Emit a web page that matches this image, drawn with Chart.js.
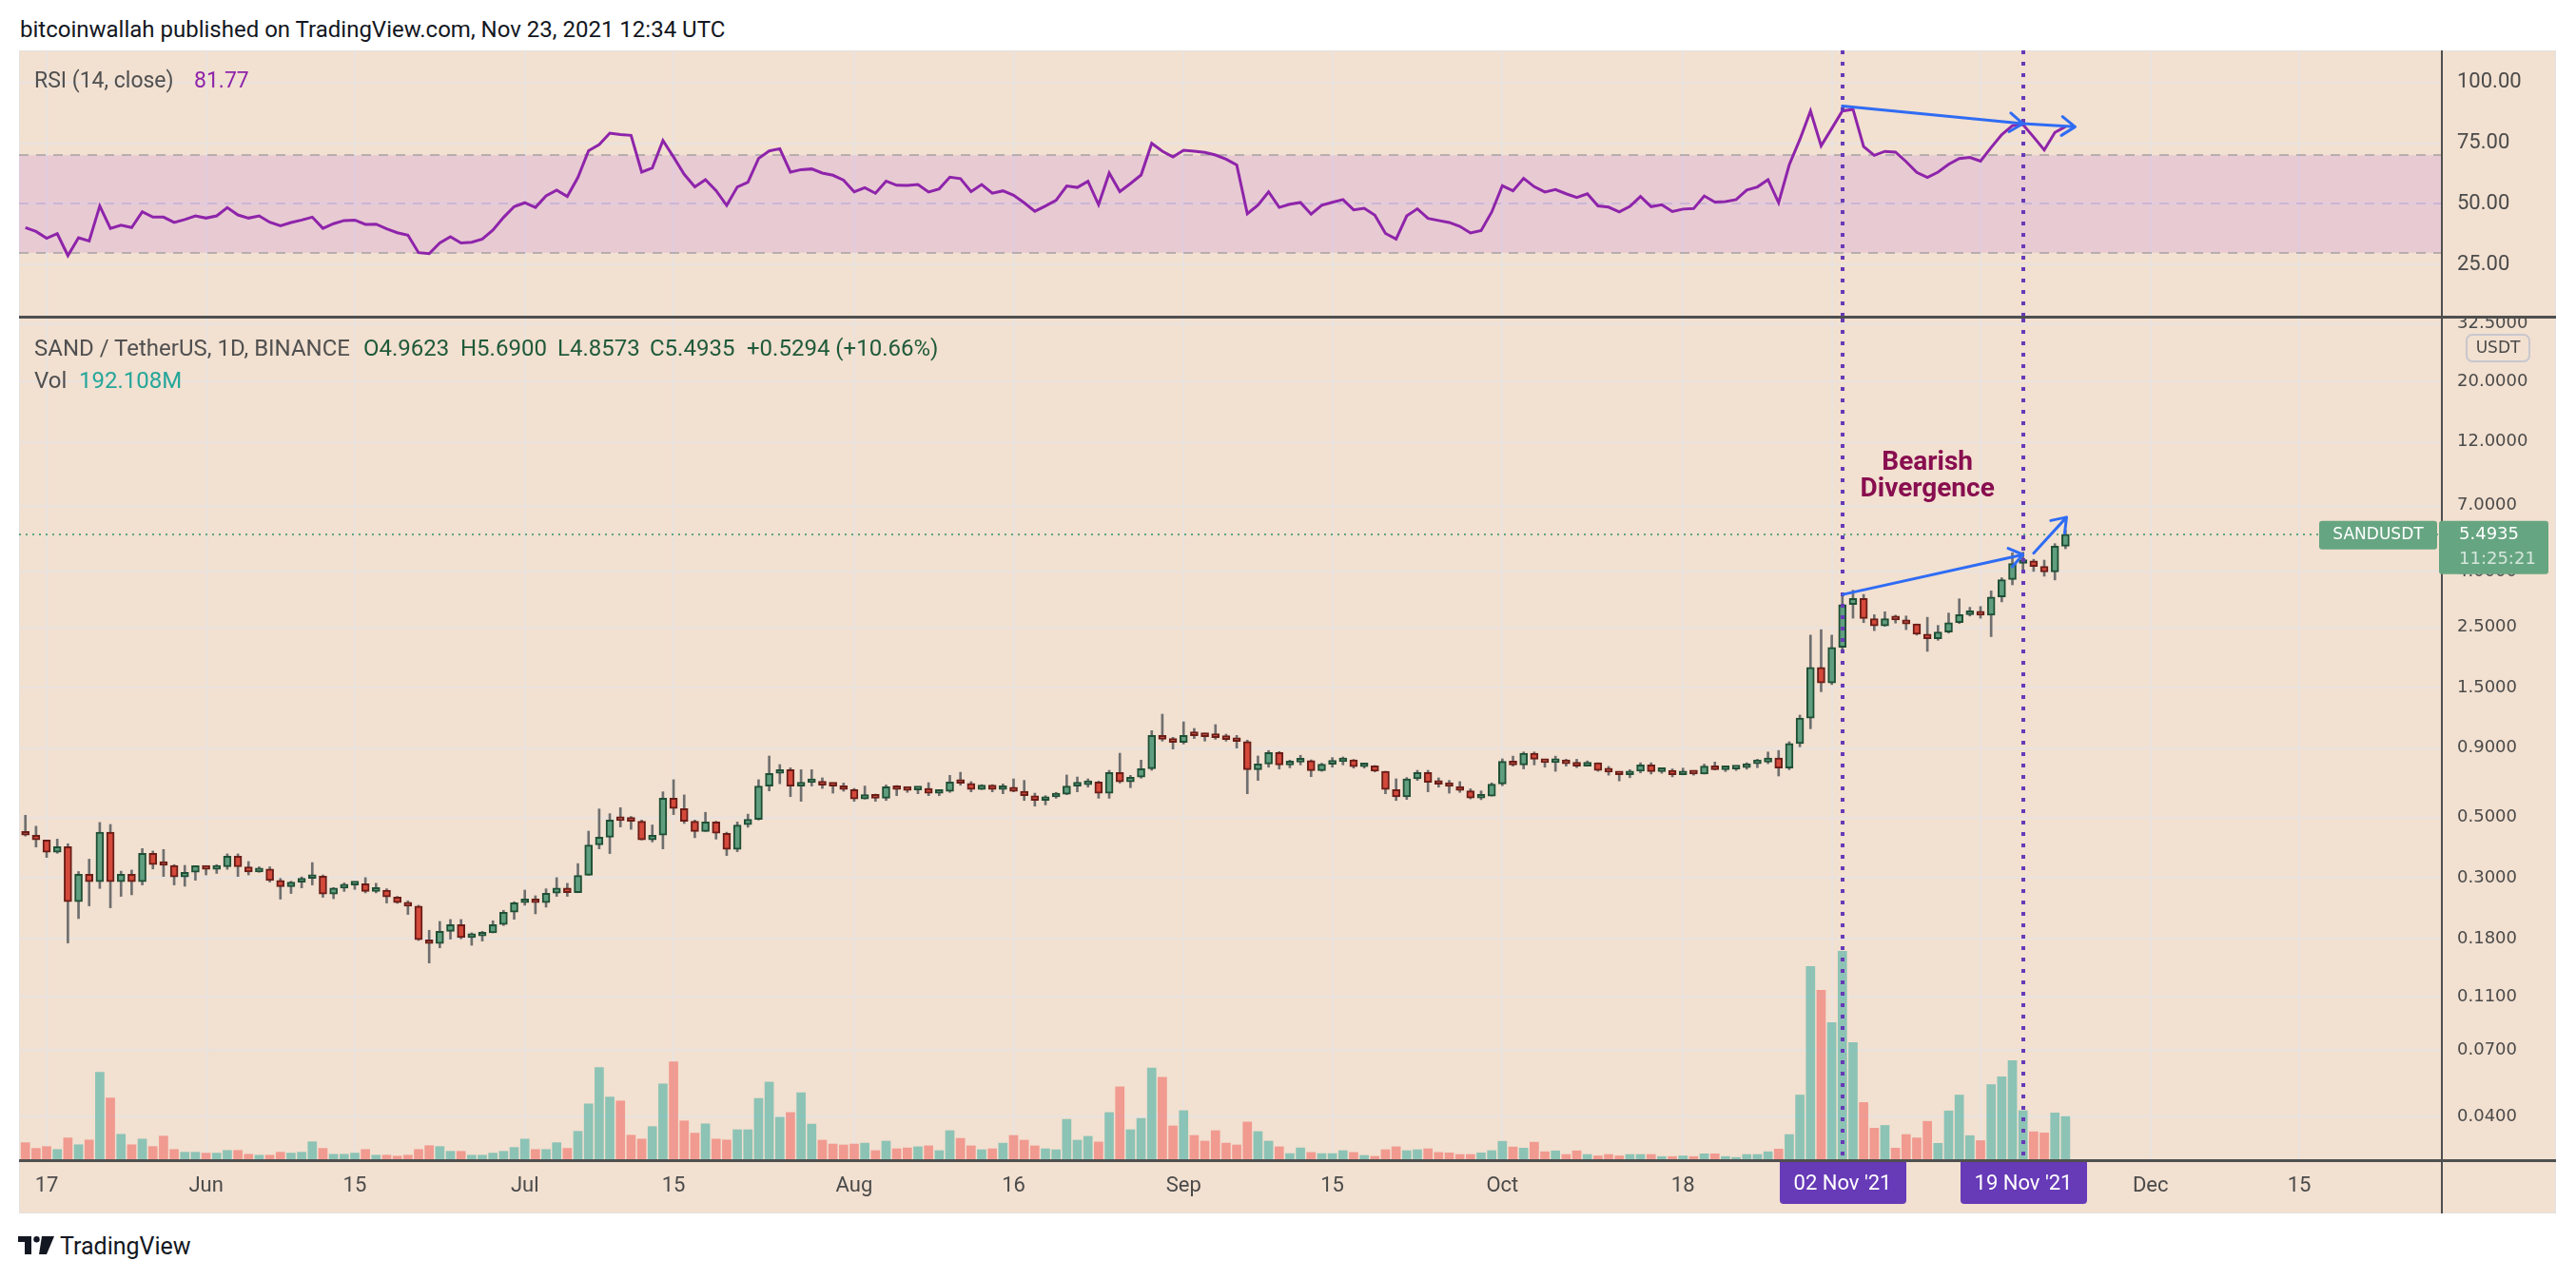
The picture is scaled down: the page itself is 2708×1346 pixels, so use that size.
<!DOCTYPE html>
<html>
<head>
<meta charset="utf-8">
<title>SAND / TetherUS 1D</title>
<script src="https://cdn.jsdelivr.net/npm/chart.js@4.4.0/dist/chart.umd.min.js"></script>
<style>
  html, body { margin: 0; padding: 0; background: #fff; }
  body { width: 2708px; height: 1346px; position: relative; overflow: hidden; font-family: Roboto, sans-serif; }
  #frame { position: absolute; left: 20px; top: 53px; width: 2667px; height: 1223px; background: #f2e0d0; box-sizing: border-box; border: 1px solid #e4e2e2; }
  canvas { position: absolute; left: 20px; }
  #rsiChart { top: 53px; width: 2667px; height: 280px; }
  #priceChart { top: 335px; width: 2667px; height: 941px; }
  .sep { position: absolute; background: #4f4f4f; }
  .txt { position: absolute; white-space: nowrap; line-height: 1; }
  #title { left: 21px; top: 19px; font-size: 24px; color: #131722; }
  .leg { font-size: 23px; color: #505050; }
  .val { color: #1f5a3a; }
  #logo { position: absolute; left: 19px; top: 1300px; }
</style>
</head>
<body>
<div id="title" class="txt">bitcoinwallah published on TradingView.com, Nov 23, 2021 12:34 UTC</div>
<div id="frame"></div>
<canvas id="rsiChart" width="2667" height="280"></canvas>
<canvas id="priceChart" width="2667" height="941"></canvas>
<div class="sep" style="left:20px;top:332px;width:2667px;height:3px"></div>

<div class="txt leg" style="left:36px;top:73px">RSI (14, close)</div>
<div class="txt leg" style="left:204px;top:73px;color:#8e24aa">81.77</div>

<div class="txt leg" style="left:36px;top:354px;font-size:24px">SAND / TetherUS, 1D, BINANCE</div>
<div class="txt leg val" style="left:382px;top:354px;font-size:24px">O4.9623</div>
<div class="txt leg val" style="left:484px;top:354px;font-size:24px">H5.6900</div>
<div class="txt leg val" style="left:586px;top:354px;font-size:24px">L4.8573</div>
<div class="txt leg val" style="left:683px;top:354px;font-size:24px">C5.4935</div>
<div class="txt leg val" style="left:785px;top:354px;font-size:24px">+0.5294 (+10.66%)</div>
<div class="txt leg" style="left:36px;top:388px;font-size:24px">Vol</div>
<div class="txt leg" style="left:83px;top:388px;font-size:24px;color:#26a69a">192.108M</div>

<svg id="logo" width="38" height="19" viewBox="0 0 38 19">
  <rect x="0" y="0" width="14" height="6" fill="#131722"/>
  <rect x="7" y="0" width="7" height="19" fill="#131722"/>
  <circle cx="19.5" cy="3.2" r="3.2" fill="#131722"/>
  <polygon points="25,0 38,0 30,19 22,19" fill="#131722"/>
</svg>
<div class="txt" style="left:63px;top:1298px;font-size:25px;color:#131722">TradingView</div>

<script>
// day 0 = 15 May 2021, last candle = 23 Nov 2021
const open = [
  0.438, 0.431, 0.414, 0.373, 0.391, 0.2455, 0.310, 0.291, 0.442, 0.291,
  0.310, 0.291, 0.370, 0.338, 0.334, 0.303, 0.315, 0.333, 0.323, 0.330,
  0.361, 0.330, 0.316, 0.324, 0.294, 0.279, 0.290, 0.299, 0.305, 0.262,
  0.2755, 0.283, 0.286, 0.268, 0.271, 0.2556, 0.2435, 0.2365, 0.178, 0.1724,
  0.1913, 0.2024, 0.1814, 0.1838, 0.1888, 0.2024, 0.2247, 0.2435, 0.2515, 0.2435,
  0.264, 0.2755, 0.265, 0.307, 0.397, 0.424, 0.493, 0.488, 0.485, 0.414,
  0.431, 0.590, 0.540, 0.485, 0.445, 0.482, 0.438, 0.382, 0.471, 0.493,
  0.653, 0.727, 0.750, 0.653, 0.672, 0.678, 0.658, 0.653, 0.634, 0.585,
  0.607, 0.589, 0.649, 0.636, 0.632, 0.640, 0.614, 0.625, 0.676, 0.668,
  0.634, 0.658, 0.634, 0.646, 0.625, 0.602, 0.578, 0.596, 0.610, 0.653,
  0.661, 0.676, 0.614, 0.732, 0.676, 0.704, 0.756, 1.002, 0.970, 0.945,
  1.013, 1.0, 0.995, 0.986, 0.968, 0.952, 0.750, 0.787, 0.867, 0.781,
  0.800, 0.809, 0.744, 0.785, 0.802, 0.815, 0.769, 0.775, 0.740, 0.634,
  0.596, 0.694, 0.732, 0.674, 0.663, 0.651, 0.627, 0.590, 0.600, 0.664,
  0.805, 0.781, 0.862, 0.819, 0.797, 0.814, 0.789, 0.773, 0.795, 0.745,
  0.735, 0.718, 0.740, 0.781, 0.738, 0.745, 0.718, 0.730, 0.723, 0.773,
  0.750, 0.755, 0.763, 0.789, 0.800, 0.828, 0.760, 0.935, 1.16, 1.78,
  1.56, 2.11, 3.03, 3.19, 2.69, 2.53, 2.69, 2.66, 2.57, 2.36,
  2.27, 2.40, 2.60, 2.78, 2.81, 2.77, 3.23, 3.74, 4.29, 4.38,
  4.18, 3.99, 4.9623
];
const high = [
  0.510, 0.465, 0.414, 0.417, 0.401, 0.317, 0.352, 0.480, 0.472, 0.318,
  0.321, 0.385, 0.377, 0.382, 0.336, 0.334, 0.333, 0.333, 0.336, 0.368,
  0.368, 0.345, 0.330, 0.330, 0.299, 0.292, 0.303, 0.342, 0.308, 0.277,
  0.288, 0.289, 0.301, 0.287, 0.274, 0.257, 0.2475, 0.2384, 0.1929, 0.2079,
  0.2113, 0.2113, 0.1888, 0.1913, 0.209, 0.2284, 0.2455, 0.271, 0.2583, 0.274,
  0.301, 0.287, 0.339, 0.446, 0.538, 0.517, 0.544, 0.505, 0.490, 0.470,
  0.622, 0.689, 0.606, 0.490, 0.523, 0.485, 0.442, 0.482, 0.515, 0.689,
  0.842, 0.783, 0.762, 0.750, 0.750, 0.700, 0.670, 0.670, 0.640, 0.653,
  0.610, 0.659, 0.656, 0.649, 0.649, 0.672, 0.629, 0.715, 0.734, 0.678,
  0.661, 0.661, 0.665, 0.694, 0.685, 0.615, 0.602, 0.619, 0.717, 0.705,
  0.694, 0.681, 0.746, 0.862, 0.715, 0.813, 1.043, 1.199, 0.986, 1.124,
  1.063, 1.021, 1.098, 1.013, 1.002, 0.963, 0.842, 0.882, 0.874, 0.813,
  0.847, 0.815, 0.792, 0.831, 0.835, 0.818, 0.787, 0.777, 0.740, 0.694,
  0.702, 0.746, 0.746, 0.700, 0.685, 0.678, 0.638, 0.627, 0.671, 0.822,
  0.841, 0.871, 0.871, 0.819, 0.841, 0.819, 0.819, 0.808, 0.795, 0.771,
  0.738, 0.750, 0.795, 0.795, 0.755, 0.755, 0.760, 0.740, 0.786, 0.800,
  0.773, 0.763, 0.795, 0.819, 0.871, 0.882, 0.950, 1.19, 2.34, 2.45,
  2.34, 3.34, 3.42, 3.30, 2.78, 2.85, 2.77, 2.75, 2.57, 2.72,
  2.54, 2.82, 3.18, 2.96, 2.98, 3.40, 3.80, 4.69, 4.72, 4.44,
  4.41, 5.07, 5.69
];
const low = [
  0.428, 0.390, 0.357, 0.370, 0.1733, 0.213, 0.2371, 0.2748, 0.2333, 0.257,
  0.2604, 0.283, 0.324, 0.304, 0.283, 0.280, 0.2945, 0.308, 0.312, 0.323,
  0.304, 0.308, 0.315, 0.290, 0.251, 0.2633, 0.276, 0.283, 0.255, 0.252,
  0.268, 0.2725, 0.2647, 0.2647, 0.2429, 0.2422, 0.2205, 0.177, 0.1463, 0.1664,
  0.179, 0.1795, 0.170, 0.1761, 0.1888, 0.2008, 0.2118, 0.2384, 0.2217, 0.2346,
  0.257, 0.257, 0.265, 0.307, 0.384, 0.369, 0.462, 0.453, 0.414, 0.407,
  0.384, 0.513, 0.476, 0.422, 0.445, 0.417, 0.363, 0.375, 0.461, 0.490,
  0.627, 0.666, 0.597, 0.574, 0.653, 0.640, 0.615, 0.625, 0.574, 0.585,
  0.574, 0.578, 0.602, 0.619, 0.612, 0.602, 0.602, 0.619, 0.658, 0.622,
  0.634, 0.622, 0.612, 0.622, 0.578, 0.551, 0.557, 0.589, 0.607, 0.622,
  0.647, 0.589, 0.589, 0.670, 0.644, 0.698, 0.746, 0.955, 0.893, 0.932,
  0.976, 0.955, 0.970, 0.955, 0.900, 0.612, 0.685, 0.766, 0.754, 0.762,
  0.781, 0.707, 0.740, 0.766, 0.781, 0.760, 0.760, 0.736, 0.612, 0.578,
  0.583, 0.685, 0.622, 0.647, 0.615, 0.619, 0.586, 0.582, 0.600, 0.655,
  0.773, 0.755, 0.781, 0.766, 0.740, 0.773, 0.763, 0.773, 0.740, 0.716,
  0.682, 0.701, 0.730, 0.723, 0.728, 0.706, 0.718, 0.716, 0.723, 0.748,
  0.738, 0.745, 0.753, 0.763, 0.789, 0.711, 0.750, 0.910, 1.06, 1.45,
  1.54, 2.04, 2.70, 2.60, 2.43, 2.52, 2.59, 2.45, 2.34, 2.04,
  2.24, 2.38, 2.58, 2.75, 2.70, 2.31, 3.10, 3.58, 3.96, 4.01,
  3.85, 3.73, 4.8573
];
const close = [
  0.431, 0.414, 0.373, 0.391, 0.2455, 0.310, 0.291, 0.442, 0.291, 0.310,
  0.291, 0.370, 0.336, 0.334, 0.303, 0.315, 0.333, 0.323, 0.330, 0.361,
  0.330, 0.316, 0.324, 0.294, 0.279, 0.290, 0.299, 0.305, 0.262, 0.2755,
  0.284, 0.286, 0.268, 0.271, 0.2556, 0.2435, 0.2365, 0.178, 0.1724, 0.1913,
  0.2024, 0.1814, 0.1838, 0.1888, 0.2024, 0.2247, 0.2435, 0.2515, 0.2435, 0.264,
  0.2755, 0.265, 0.307, 0.397, 0.424, 0.490, 0.488, 0.485, 0.414, 0.431,
  0.590, 0.540, 0.485, 0.445, 0.482, 0.438, 0.382, 0.470, 0.493, 0.653,
  0.727, 0.750, 0.653, 0.672, 0.678, 0.658, 0.653, 0.634, 0.585, 0.607,
  0.589, 0.649, 0.634, 0.630, 0.640, 0.614, 0.625, 0.676, 0.668, 0.634,
  0.658, 0.634, 0.646, 0.625, 0.602, 0.578, 0.596, 0.610, 0.653, 0.661,
  0.676, 0.614, 0.732, 0.676, 0.704, 0.756, 1.002, 0.970, 0.945, 1.002,
  1.0, 0.9915, 0.9835, 0.968, 0.952, 0.750, 0.787, 0.867, 0.781, 0.800,
  0.809, 0.744, 0.785, 0.802, 0.815, 0.769, 0.775, 0.740, 0.634, 0.596,
  0.694, 0.732, 0.674, 0.663, 0.651, 0.629, 0.590, 0.600, 0.664, 0.805,
  0.781, 0.862, 0.819, 0.797, 0.814, 0.789, 0.773, 0.795, 0.745, 0.735,
  0.718, 0.740, 0.781, 0.738, 0.745, 0.718, 0.730, 0.723, 0.773, 0.750,
  0.755, 0.763, 0.789, 0.800, 0.828, 0.760, 0.935, 1.16, 1.78, 1.56,
  2.11, 3.03, 3.19, 2.69, 2.53, 2.69, 2.66, 2.57, 2.36, 2.27,
  2.40, 2.60, 2.78, 2.81, 2.77, 3.23, 3.74, 4.29, 4.38, 4.18,
  3.99, 4.9641, 5.4935
];
// volume in millions of SAND
const volume = [
  77, 52, 60, 47, 98, 68, 89, 387, 274, 114,
  68, 93, 60, 106, 47, 35, 35, 31, 31, 43,
  43, 26, 22, 22, 35, 31, 35, 81, 52, 26,
  26, 31, 47, 22, 22, 18, 22, 47, 64, 60,
  39, 39, 22, 22, 31, 39, 56, 93, 47, 47,
  77, 52, 127, 248, 408, 278, 261, 110, 93, 148,
  336, 433, 173, 119, 160, 93, 89, 134, 134, 272,
  344, 189, 210, 297, 159, 88, 71, 67, 71, 75,
  42, 84, 50, 54, 59, 63, 42, 130, 96, 63,
  46, 50, 75, 109, 88, 63, 50, 46, 180, 88,
  105, 80, 210, 323, 134, 184, 406, 365, 151, 218,
  109, 84, 130, 75, 67, 168, 126, 84, 59, 29,
  54, 34, 29, 29, 42, 34, 21, 17, 46, 59,
  42, 46, 50, 34, 32, 25, 25, 32, 42, 83,
  58, 53, 79, 37, 41, 25, 41, 25, 19, 25,
  19, 25, 25, 25, 16, 16, 19, 16, 28, 28,
  16, 12, 25, 25, 37, 49, 113, 287, 853, 749,
  606, 920, 518, 254, 141, 153, 53, 113, 98, 171,
  74, 217, 287, 108, 86, 333, 367, 439, 218, 125,
  120, 208, 192.108
];
const rsi = [
  40.3, 38.7, 35.9, 37.8, 28.8, 36.1, 34.8, 49.2, 40.0, 41.3,
  40.3, 46.8, 44.6, 44.6, 42.4, 43.6, 45.1, 44.2, 45.1, 48.5,
  45.5, 44.2, 45.1, 42.5, 41.0, 42.4, 43.4, 44.6, 40.0, 41.9,
  43.2, 43.4, 41.6, 41.7, 39.8, 38.2, 37.2, 30.0, 29.6, 34.0,
  36.5, 34.0, 34.3, 35.6, 39.3, 44.5, 48.9, 50.5, 48.6, 53.3,
  55.7, 53.1, 60.9, 71.9, 74.4, 79.1, 78.5, 78.2, 63.1, 64.8,
  76.1, 69.3, 62.2, 57.0, 60.0, 55.5, 49.4, 57.0, 58.9, 68.7,
  71.8, 72.7, 63.1, 64.1, 64.4, 62.7, 61.8, 59.8, 55.0, 56.7,
  54.4, 59.4, 57.7, 57.6, 58.0, 54.9, 56.2, 61.0, 60.4, 55.1,
  58.0, 54.4, 55.4, 53.6, 50.5, 47.0, 49.2, 51.5, 57.4, 56.8,
  59.3, 49.7, 62.7, 55.1, 58.4, 61.9, 74.9, 71.7, 69.3, 72.1,
  71.7, 71.2, 70.1, 68.4, 66.0, 46.0, 49.5, 55.0, 48.6, 49.9,
  50.6, 45.8, 49.5, 50.7, 51.8, 47.6, 48.2, 45.4, 37.9, 35.6,
  45.1, 48.0, 44.1, 43.2, 42.4, 40.8, 38.1, 39.1, 46.7, 57.5,
  55.4, 60.5, 57.1, 54.9, 55.9, 54.2, 52.7, 54.2, 49.2, 48.7,
  46.7, 49.0, 53.1, 48.9, 49.7, 46.9, 47.9, 48.1, 53.3, 50.8,
  51.0, 51.8, 55.7, 57.0, 60.0, 50.5, 66.1, 76.5, 88.2, 73.9,
  81.0, 88.2, 88.9, 73.6, 70.0, 71.6, 71.3, 67.4, 63.0, 60.9,
  63.1, 66.3, 68.7, 69.1, 67.6, 73.2, 78.5, 82.2, 82.6, 77.5,
  72.2, 79.4, 81.77
];

const tickDays = [2, 17, 31, 47, 61, 78, 93, 109, 123, 139, 156, 170, 184, 200, 214];
const tickLabels = ['17', 'Jun', '15', 'Jul', '15', 'Aug', '16', 'Sep', '15', 'Oct', '18', 'Nov', '15', 'Dec', '15'];
const priceTicks = [0.04, 0.07, 0.11, 0.18, 0.3, 0.5, 0.9, 1.5, 2.5, 4, 7, 12, 20, 32.5];
const rsiTicks = [25, 50, 75, 100];
const markDays = [171, 188];
const markLabels = ["02 Nov '21", "19 Nov '21"];
const lastClose = 5.4935;

// visible day range of the time axis
const X_MIN = -0.6;
const X_MAX = 227.33;

const gridColor = '#e9e3df';
const axisText = '#4a4a4a';
Chart.defaults.font.family = 'Roboto';

function markLines(ctx, x, top, bottom) {
  ctx.save();
  ctx.strokeStyle = '#673ab7';
  ctx.lineWidth = 4;
  ctx.setLineDash([4, 8]);
  markDays.forEach(d => {
    const px = Math.round(x.getPixelForValue(d));
    ctx.beginPath();
    ctx.moveTo(px, top);
    ctx.lineTo(px, bottom);
    ctx.stroke();
  });
  ctx.restore();
}

function arrow(ctx, x1, y1, x2, y2) {
  const ang = Math.atan2(y2 - y1, x2 - x1);
  const len = 17, spread = 0.62;
  ctx.save();
  ctx.strokeStyle = '#2f6cf4';
  ctx.lineWidth = 3;
  ctx.lineCap = 'round';
  ctx.lineJoin = 'round';
  ctx.beginPath();
  ctx.moveTo(x1, y1);
  ctx.lineTo(x2, y2);
  ctx.moveTo(x2 - len * Math.cos(ang - spread), y2 - len * Math.sin(ang - spread));
  ctx.lineTo(x2, y2);
  ctx.lineTo(x2 - len * Math.cos(ang + spread), y2 - len * Math.sin(ang + spread));
  ctx.stroke();
  ctx.restore();
}

function roundBox(ctx, x, y, w, h, r) {
  ctx.beginPath();
  ctx.roundRect(x, y, w, h, r);
}

const rsiMarks = {
  id: 'rsiMarks',
  beforeDatasetsDraw(chart) {
    const { ctx, chartArea: a, scales: { y } } = chart;
    const y70 = y.getPixelForValue(70), y50 = y.getPixelForValue(50), y30 = y.getPixelForValue(30);
    ctx.save();
    ctx.fillStyle = 'rgba(202,136,220,0.25)';
    ctx.fillRect(a.left, y70, a.right - a.left, y30 - y70);
    ctx.lineWidth = 2;
    ctx.setLineDash([10, 8]);
    [[y70, 'rgba(140,138,150,0.55)'], [y50, 'rgba(170,150,200,0.4)'], [y30, 'rgba(140,138,150,0.55)']].forEach(([py, c]) => {
      ctx.strokeStyle = c;
      ctx.beginPath();
      ctx.moveTo(a.left, Math.round(py));
      ctx.lineTo(a.right, Math.round(py));
      ctx.stroke();
    });
    ctx.restore();
  },
  afterDatasetsDraw(chart) {
    const { ctx, chartArea: a, scales: { x, y } } = chart;
    markLines(ctx, x, a.top, a.bottom);
    arrow(ctx, x.getPixelForValue(171), y.getPixelForValue(90.2), x.getPixelForValue(188), y.getPixelForValue(83.0));
    arrow(ctx, x.getPixelForValue(188), y.getPixelForValue(83.0), x.getPixelForValue(192.9), y.getPixelForValue(81.7));
  },
  afterDraw(chart) {
    const { ctx, chartArea: a } = chart;
    ctx.save();
    ctx.fillStyle = '#4f4f4f';
    ctx.fillRect(a.right, 0, 2, chart.height);
    ctx.restore();
  }
};

const priceMarks = {
  id: 'priceMarks',
  beforeDatasetsDraw(chart) {
    const { ctx, chartArea: a, scales: { y } } = chart;
    const py = Math.round(y.getPixelForValue(lastClose));
    ctx.save();
    ctx.strokeStyle = '#5fa680';
    ctx.lineWidth = 2;
    ctx.setLineDash([2, 5]);
    ctx.beginPath();
    ctx.moveTo(a.left, py);
    ctx.lineTo(a.right, py);
    ctx.stroke();
    ctx.restore();
  },
  afterDatasetsDraw(chart) {
    const { ctx, chartArea: a, scales: { x, y } } = chart;
    markLines(ctx, x, a.top, a.bottom);
    arrow(ctx, x.getPixelForValue(171.05), y.getPixelForValue(3.30), x.getPixelForValue(188), y.getPixelForValue(4.62));
    arrow(ctx, x.getPixelForValue(189.0), y.getPixelForValue(4.68), x.getPixelForValue(192.1), y.getPixelForValue(6.34));
    ctx.save();
    ctx.fillStyle = '#880e4f';
    ctx.font = 'bold 28px Roboto';
    ctx.textAlign = 'center';
    ctx.textBaseline = 'middle';
    const tx = x.getPixelForValue(179);
    ctx.fillText('Bearish', tx, y.getPixelForValue(10.04));
    ctx.fillText('Divergence', tx, y.getPixelForValue(8.0));
    ctx.restore();
  },
  afterDraw(chart) {
    const { ctx, chartArea: a, scales: { x, y } } = chart;
    ctx.save();
    // axis frame lines
    ctx.fillStyle = '#4f4f4f';
    ctx.fillRect(a.right, 0, 2, chart.height);
    ctx.fillRect(0, a.bottom - 1, chart.width, 3);

    // date labels of the two marked candles
    markDays.forEach((d, i) => {
      const cx = Math.round(x.getPixelForValue(d));
      ctx.fillStyle = '#673ab7';
      roundBox(ctx, cx - 66, a.bottom + 2, 133, 44, [0, 0, 4, 4]);
      ctx.fill();
      ctx.fillStyle = '#ffffff';
      ctx.font = '22px Roboto';
      ctx.textAlign = 'center';
      ctx.textBaseline = 'middle';
      ctx.fillText(markLabels[i], cx, a.bottom + 25);
    });

    // last price tags
    const py = y.getPixelForValue(lastClose);
    ctx.fillStyle = '#66a581';
    roundBox(ctx, a.right - 2, py - 14, 115, 56, 3);
    ctx.fill();
    roundBox(ctx, a.right - 128, py - 14, 124, 30, 3);
    ctx.fill();
    ctx.font = '18px "DejaVu Sans"';
    ctx.textBaseline = 'middle';
    ctx.textAlign = 'left';
    ctx.fillStyle = '#ffffff';
    ctx.fillText(lastClose.toFixed(4), a.right + 19, py + 1);
    ctx.fillStyle = 'rgba(255,255,255,0.72)';
    ctx.fillText('11:25:21', a.right + 19, py + 27);
    ctx.fillStyle = '#ffffff';
    ctx.font = '17px "DejaVu Sans"';
    ctx.textAlign = 'center';
    ctx.fillText('SANDUSDT', a.right - 66, py + 1);

    // currency badge
    ctx.strokeStyle = '#c9c7cf';
    ctx.lineWidth = 2;
    roundBox(ctx, a.right + 27, 17, 66, 28, 6);
    ctx.stroke();
    ctx.fillStyle = axisText;
    ctx.fillText('USDT', a.right + 60, 32);
    ctx.restore();
  }
};

const days = close.map((_, i) => i);
const isUp = days.map(i => close[i] >= open[i]);

function timeAxis(showLabels) {
  return {
    type: 'linear',
    position: 'bottom',
    min: X_MIN,
    max: X_MAX,
    bounds: 'data',
    offset: false,
    afterBuildTicks: s => { s.ticks = tickDays.map(v => ({ value: v })); },
    ticks: {
      display: showLabels,
      autoSkip: false,
      maxRotation: 0,
      padding: 14,
      color: axisText,
      font: { size: 22 },
      callback: (v, i) => tickLabels[i]
    },
    grid: { color: gridColor, lineWidth: 2, drawTicks: false, offset: false },
    border: { display: false },
    afterFit: s => { s.height = showLabels ? 56 : 0; s.paddingLeft = 0; s.paddingRight = 0; }
  };
}

new Chart(document.getElementById('rsiChart'), {
  type: 'line',
  data: {
    datasets: [{
      label: 'RSI',
      data: days.map(i => ({ x: i, y: rsi[i] })),
      borderColor: '#8e24aa',
      borderWidth: 3,
      pointRadius: 0,
      tension: 0
    }]
  },
  options: {
    responsive: false,
    animation: false,
    devicePixelRatio: 1,
    layout: { padding: 0 },
    plugins: { legend: { display: false }, tooltip: { enabled: false } },
    scales: {
      x: timeAxis(false),
      y: {
        position: 'right',
        min: 3.7,
        max: 113.1,
        bounds: 'data',
        afterBuildTicks: s => { s.ticks = rsiTicks.map(v => ({ value: v })); },
        ticks: { color: axisText, font: { size: 22 }, padding: 17, callback: v => Number(v).toFixed(2) },
        grid: { color: gridColor, lineWidth: 2, drawTicks: false },
        border: { display: false },
        afterFit: s => { s.width = 121; s.paddingTop = 0; s.paddingBottom = 0; }
      }
    }
  },
  plugins: [rsiMarks]
});

new Chart(document.getElementById('priceChart'), {
  type: 'bar',
  data: {
    datasets: [
      {
        label: 'Volume',
        yAxisID: 'v',
        data: days.map(i => ({ x: i, y: volume[i] })),
        backgroundColor: days.map(i => isUp[i] ? 'rgba(38,166,154,0.5)' : 'rgba(239,83,80,0.5)'),
        barThickness: 9,
        grouped: false,
        order: 3
      },
      {
        label: 'Wick',
        yAxisID: 'y',
        data: days.map(i => ({ x: i, y: [low[i], high[i]] })),
        backgroundColor: '#6f6f6f',
        barThickness: 2,
        minBarLength: 2,
        grouped: false,
        order: 2
      },
      {
        label: 'SANDUSDT',
        yAxisID: 'y',
        data: days.map(i => ({ x: i, y: [open[i], close[i]] })),
        backgroundColor: days.map(i => isUp[i] ? '#5f9e7f' : '#d4493b'),
        borderColor: days.map(i => isUp[i] ? '#1f4f35' : '#6b1d17'),
        borderWidth: 2,
        borderSkipped: false,
        barThickness: 8,
        minBarLength: 4,
        grouped: false,
        order: 1
      }
    ]
  },
  options: {
    responsive: false,
    animation: false,
    devicePixelRatio: 1,
    layout: { padding: 0 },
    plugins: { legend: { display: false }, tooltip: { enabled: false } },
    scales: {
      x: timeAxis(true),
      y: {
        type: 'logarithmic',
        position: 'right',
        min: 0.02762,
        max: 34.0,
        bounds: 'data',
        afterBuildTicks: s => { s.ticks = priceTicks.map(v => ({ value: v })); },
        ticks: {
          autoSkip: false,
          color: axisText,
          font: { family: '"DejaVu Sans"', size: 18 },
          padding: 17,
          callback: v => Number(v).toFixed(4)
        },
        grid: { color: gridColor, lineWidth: 2, drawTicks: false },
        border: { display: false },
        afterFit: s => { s.width = 121; s.paddingTop = 0; s.paddingBottom = 0; }
      },
      v: {
        type: 'linear',
        display: false,
        min: 0,
        max: 3708
      }
    }
  },
  plugins: [priceMarks]
});
</script>
</body>
</html>
